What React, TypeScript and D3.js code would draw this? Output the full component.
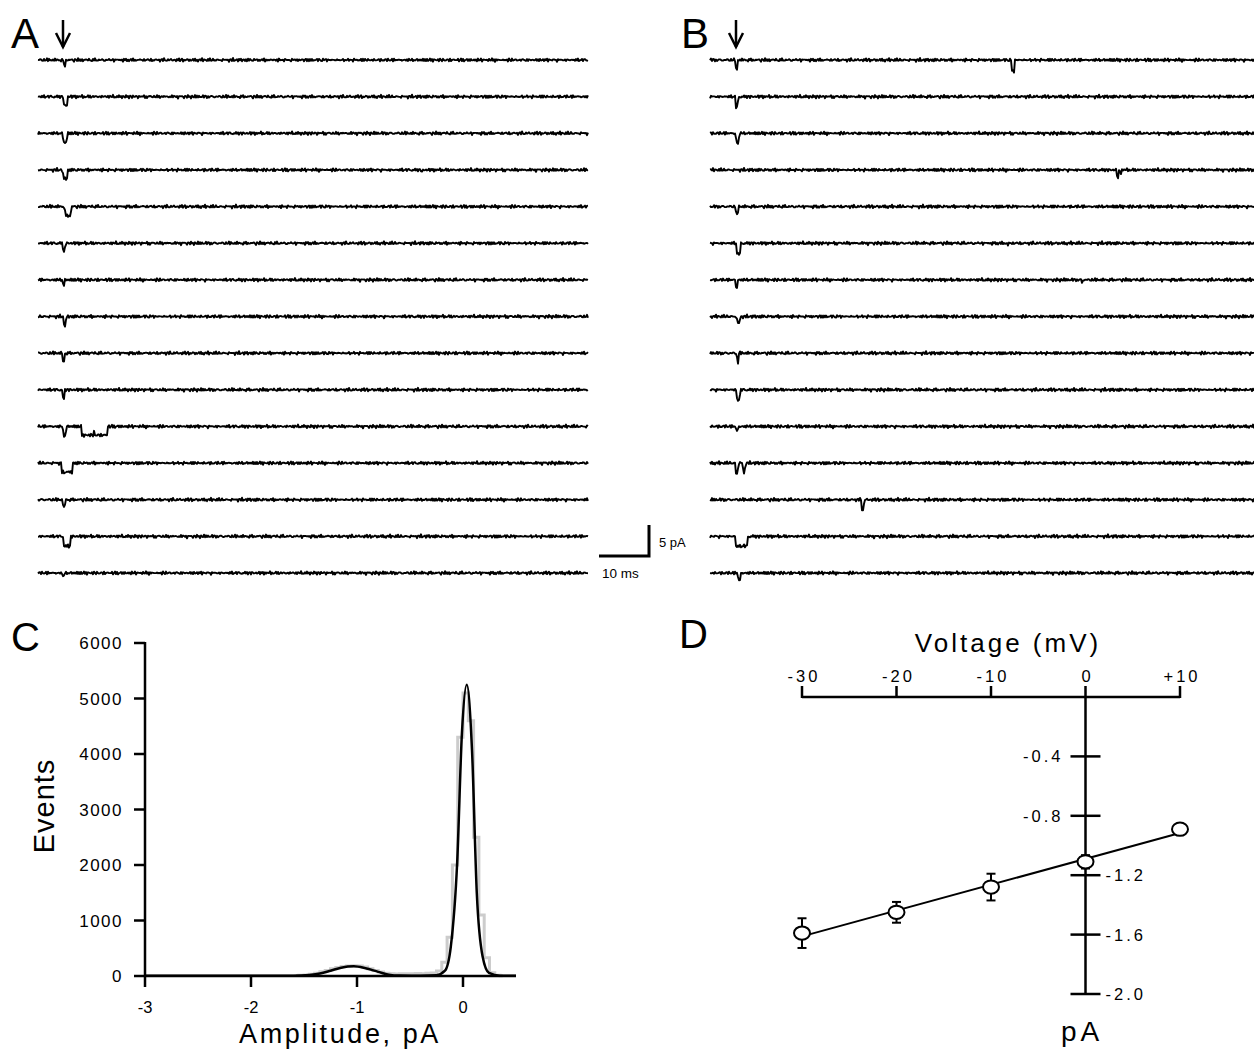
import React from 'react';
import * as d3 from 'd3';

const FONT = 'Liberation Sans, Arial, Helvetica, sans-serif';

// single channel openings per sweep: [start ms, duration ms, amplitude pA]
const sweepsA: number[][][] = [
  [[5.0, 0.6, -0.9]],
  [[5.0, 1.0, -1.4]],
  [[4.9, 1.0, -1.5]],
  [[4.9, 1.1, -1.4], [76.6, 0.4, -0.4]],
  [[5.3, 1.4, -1.5]],
  [[4.9, 0.6, -1.5]],
  [[4.9, 0.5, -1.0]],
  [[5.0, 0.7, -1.4]],
  [[4.8, 0.6, -1.4]],
  [[4.8, 0.6, -1.4]],
  [[4.9, 0.8, -1.5], [8.6, 5.4, -1.4], [11.0, 0.4, 0.5]],
  [[4.6, 2.4, -1.5], [5.8, 0.4, 0.3]],
  [[4.9, 0.6, -1.4]],
  [[5.0, 1.6, -1.6], [5.9, 0.3, 0.3]],
  [[4.8, 0.5, -0.7]],
];

const sweepsB: number[][][] = [
  [[5.0, 0.6, -1.5], [60.2, 0.8, -1.8]],
  [[5.0, 0.7, -1.7]],
  [[5.1, 0.8, -1.6]],
  [[81.3, 0.5, -1.5], [81.9, 0.4, -0.8]],
  [[5.1, 0.6, -1.5]],
  [[5.2, 1.0, -1.7], [59.4, 0.4, -0.4]],
  [[5.0, 0.6, -1.2], [74.2, 0.4, -0.5]],
  [[5.3, 0.8, -1.1]],
  [[5.3, 0.5, -1.6]],
  [[5.2, 0.9, -1.6]],
  [[5.1, 0.6, -0.8]],
  [[5.0, 0.7, -1.7], [6.5, 0.6, -1.7]],
  [[30.2, 0.7, -1.6]],
  [[5.0, 2.6, -1.6], [6.6, 0.3, 0.3]],
  [[5.5, 0.7, -1.2]],
];

// baseline noise samples (pA), read as a short stretch of recording
const noiseA = [0.05, -0.08, 0.12, -0.03, 0.0, -0.14, 0.09, 0.02, -0.06, 0.15, -0.1, 0.04, -0.02, 0.08, -0.12, 0.06,
  -0.04, 0.11, -0.07, 0.01, 0.13, -0.09, 0.03, -0.15, 0.07, -0.01, 0.1, -0.05, 0.02, -0.11, 0.06];
const noiseB = [-0.04, 0.07, -0.02, 0.1, -0.08, 0.03, 0.05, -0.11, 0.0, 0.08, -0.06, 0.12, -0.03, -0.09, 0.04, 0.02,
  -0.07, 0.09, -0.01, 0.06, -0.1, 0.03, -0.05];

// amplitude histogram (panel C)
const histCenters = [-1.575, -1.525, -1.475, -1.425, -1.375, -1.325, -1.275, -1.225, -1.175, -1.125, -1.075, -1.025,
  -0.975, -0.925, -0.875, -0.825, -0.775, -0.725, -0.675, -0.625, -0.575, -0.525, -0.475, -0.425, -0.375, -0.325,
  -0.275, -0.225, -0.175, -0.125, -0.075, -0.025, 0.025, 0.075, 0.125, 0.175, 0.225, 0.275, 0.325, 0.375];
const histCounts = [10, 12, 18, 30, 50, 75, 100, 130, 155, 172, 182, 185, 178, 160, 130, 100, 70, 48, 40, 38, 40, 42,
  40, 45, 42, 48, 55, 90, 250, 700, 2000, 4300, 5100, 4600, 2500, 1100, 330, 60, 12, 5];
const fitX = [-3, -2, -1.6, -1.45, -1.35, -1.25, -1.15, -1.03, -0.92, -0.8, -0.7, -0.6, -0.4, -0.25, -0.17, -0.115,
  -0.055, -0.01, 0.035, 0.085, 0.13, 0.185, 0.245, 0.35, 0.5];
const fitY = [5, 5, 6, 20, 45, 95, 150, 175, 140, 75, 25, 8, 6, 15, 95, 530, 2040, 4380, 5250, 4070, 1500, 350, 55, 5, 3];
const eventTicks = [0, 1000, 2000, 3000, 4000, 5000, 6000];
const ampTicks = [-3, -2, -1, 0];

// I-V relation (panel D)
const voltages = [-30, -20, -10, 0, 10];
const currents = [-1.59, -1.45, -1.28, -1.11, -0.89];
const currentErr = [0.1, 0.07, 0.09, 0.045, 0.02];
const voltTicks = [-30, -20, -10, 0, 10];
const voltLabels = ['-30', '-20', '-10', '0', '+10'];
const currTicks = [-0.4, -0.8, -1.2, -1.6, -2.0];

const traceMs = 110;
const rowY = d3.scaleLinear().domain([0, 14]).range([60, 573]);
const pAoff = d3.scaleLinear().domain([0, -5]).range([0, 31]);
const tA = d3.scaleLinear().domain([0, traceMs]).range([38, 588]);
const tB = d3.scaleLinear().domain([0, traceMs]).range([710, 1260]);

function sweepPath(events: number[][], row: number, tx: d3.ScaleLinear<number, number>, seed: number) {
  const pts: [number, number][] = [];
  const n = Math.round(traceMs / 0.2);
  for (let i = 0; i <= n; i++) {
    const t = i * 0.2;
    let v = 1.2 * (noiseA[(i + seed * 7) % noiseA.length] + noiseB[(i + seed * 5) % noiseB.length]);
    for (const [t0, dur, amp] of events) {
      const s = Math.min(t - t0, t0 + dur - t) / 0.2;
      if (s > 0) v += amp * Math.min(1, s);
    }
    pts.push([tx(t), rowY(row) + pAoff(v)]);
  }
  return d3.line()(pts) || '';
}

const Arrow = ({ x }: { x: number }) => (
  <g stroke="#000" strokeWidth={2.5} fill="none">
    <line x1={x} y1={20} x2={x} y2={47} />
    <polyline points={`${x - 7},33 ${x},47 ${x + 7},33`} />
  </g>
);

const Traces = () => (
  <g>
    {sweepsA.map((ev, i) => (
      <path key={'a' + i} d={sweepPath(ev, i, tA, i)} fill="none" stroke="#000" strokeWidth={1.9} strokeLinejoin="round" />
    ))}
    {sweepsB.map((ev, i) => (
      <path key={'b' + i} d={sweepPath(ev, i, tB, i + 20)} fill="none" stroke="#000" strokeWidth={1.9} strokeLinejoin="round" />
    ))}
    <Arrow x={63} />
    <Arrow x={736} />
    <text x={11} y={48} fontSize={42} fontFamily={FONT}>A</text>
    <text x={681} y={48} fontSize={42} fontFamily={FONT}>B</text>
    {/* scale bar: 10 ms x 5 pA */}
    <g stroke="#000" strokeWidth={3} fill="none">
      <polyline points={`${tA(0) + 561},${556} ${tA(10) + 561},${556} ${tA(10) + 561},${556 - pAoff(-5)}`} />
    </g>
    <text x={659} y={547} fontSize={13} fontFamily={FONT}>5 pA</text>
    <text x={602} y={578} fontSize={13.5} fontFamily={FONT}>10 ms</text>
  </g>
);

const PanelC = () => {
  const x = d3.scaleLinear().domain([-3, 0.5]).range([145, 516]);
  const y = d3.scaleLinear().domain([0, 6000]).range([976, 643]);
  const hist = d3.line<number>().x((_, i) => x(histCenters[i])).y((d) => y(d)).curve(d3.curveStep)(histCounts) || '';
  const fit = d3.line<number>().x((d) => x(d)).y((_, i) => y(fitY[i])).curve(d3.curveMonotoneX)(fitX) || '';
  return (
    <g fontFamily={FONT}>
      <text x={11} y={651} fontSize={40}>C</text>
      <path d={hist} fill="none" stroke="#cccccc" strokeWidth={3} />
      <path d={fit} fill="none" stroke="#000" strokeWidth={2.5} strokeLinejoin="round" />
      <g stroke="#000" strokeWidth={2.5}>
        <line x1={x(-3)} y1={y(6000) - 1} x2={x(-3)} y2={y(0) + 1} />
        <line x1={x(-3)} y1={y(0)} x2={x(0.5)} y2={y(0)} />
        {eventTicks.map((t) => <line key={t} x1={x(-3) - 11} x2={x(-3)} y1={y(t)} y2={y(t)} />)}
        {ampTicks.map((t) => <line key={t} x1={x(t)} x2={x(t)} y1={y(0)} y2={y(0) + 11} />)}
      </g>
      {eventTicks.map((t) => (
        <text key={t} x={123} y={y(t) + 6} fontSize={17} textAnchor="end" style={{ letterSpacing: 1.5 }}>{t}</text>
      ))}
      {ampTicks.map((t) => (
        <text key={t} x={x(t)} y={1013} fontSize={16.5} textAnchor="middle">{t}</text>
      ))}
      <text transform="translate(54,806) rotate(-90)" fontSize={29} textAnchor="middle" style={{ letterSpacing: 1 }}>Events</text>
      <text x={340} y={1043} fontSize={27} textAnchor="middle" style={{ letterSpacing: 2.6 }}>Amplitude, pA</text>
    </g>
  );
};

const PanelD = () => {
  const x = d3.scaleLinear().domain([-30, 10]).range([802, 1180]);
  const y = d3.scaleLinear().domain([0, -2.0]).range([697, 994]);
  const mx = d3.mean(voltages) as number;
  const my = d3.mean(currents) as number;
  const slope = d3.sum(voltages, (v, i) => (v - mx) * (currents[i] - my)) / d3.sum(voltages, (v) => (v - mx) * (v - mx));
  const fitAt = (v: number) => my + slope * (v - mx);
  return (
    <g fontFamily={FONT}>
      <text x={679} y={648} fontSize={40}>D</text>
      <text x={1008} y={652} fontSize={26} textAnchor="middle" style={{ letterSpacing: 3 }}>Voltage (mV)</text>
      <g stroke="#000" strokeWidth={2.5}>
        <line x1={x(-30)} x2={x(10)} y1={y(0)} y2={y(0)} />
        {voltTicks.map((v) => <line key={v} x1={x(v)} x2={x(v)} y1={y(0) + 1} y2={y(0) - 11} />)}
        <line x1={x(0)} x2={x(0)} y1={y(0)} y2={y(-2.0)} />
        {currTicks.map((c) => <line key={c} x1={x(0) - 15} x2={x(0) + 15} y1={y(c)} y2={y(c)} />)}
      </g>
      {voltTicks.map((v, i) => (
        <text key={v} x={x(v) + 2} y={682} fontSize={16.5} textAnchor="middle" style={{ letterSpacing: 3 }}>{voltLabels[i]}</text>
      ))}
      {currTicks.map((c, i) => (
        <text key={c} x={i < 2 ? x(0) - 22 : x(0) + 20} y={y(c) + 6} fontSize={16.5}
          textAnchor={i < 2 ? 'end' : 'start'} style={{ letterSpacing: 3 }}>{c.toFixed(1)}</text>
      ))}
      <line x1={x(-30)} y1={y(fitAt(-30))} x2={x(10)} y2={y(fitAt(10))} stroke="#000" strokeWidth={2} />
      <g stroke="#000" strokeWidth={2} fill="none">
        {voltages.map((v, i) => (
          <g key={v}>
            <line x1={x(v)} x2={x(v)} y1={y(currents[i] + currentErr[i])} y2={y(currents[i] - currentErr[i])} />
            <line x1={x(v) - 4.5} x2={x(v) + 4.5} y1={y(currents[i] + currentErr[i])} y2={y(currents[i] + currentErr[i])} />
            <line x1={x(v) - 4.5} x2={x(v) + 4.5} y1={y(currents[i] - currentErr[i])} y2={y(currents[i] - currentErr[i])} />
          </g>
        ))}
      </g>
      {voltages.map((v, i) => (
        <ellipse key={v} cx={x(v)} cy={y(currents[i])} rx={8} ry={6.7} fill="#fff" stroke="#000" strokeWidth={2} />
      ))}
      <text x={1082} y={1041} fontSize={28} textAnchor="middle" style={{ letterSpacing: 4 }}>pA</text>
    </g>
  );
};

export default function App() {
  return (
    <div style={{ position: 'absolute', left: 0, top: 0 }}>
      <svg width={1254} height={1049} style={{ display: 'block', background: '#fff' }}>
        <rect width={1254} height={1049} fill="#fff" />
        <Traces />
        <PanelC />
        <PanelD />
      </svg>
    </div>
  );
}
